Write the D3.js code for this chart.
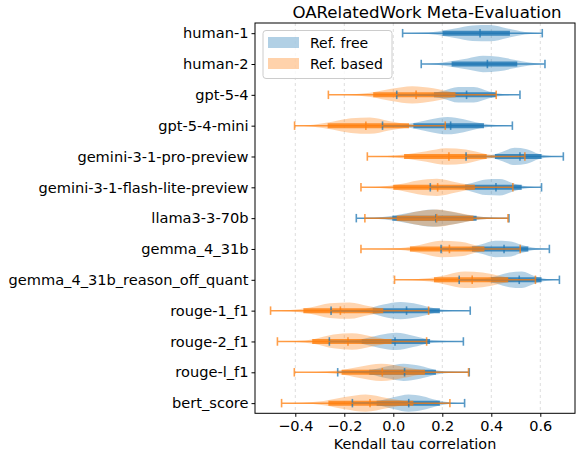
<!DOCTYPE html>
<html>
<head>
<meta charset="utf-8">
<script src="https://cdn.jsdelivr.net/npm/d3@7"></script>
<style>
  body { margin: 0; background: #fff; }
  svg { font-family: "DejaVu Sans", sans-serif; }
</style>
</head>
<body>
<div id="chart"></div>
<script>
// categories, top to bottom
const categories = ["human-1", "human-2", "gpt-5-4", "gpt-5-4-mini", "gemini-3-1-pro-preview",
  "gemini-3-1-flash-lite-preview", "llama3-3-70b", "gemma_4_31b", "gemma_4_31b_reason_off_quant",
  "rouge-1_f1", "rouge-2_f1", "rouge-l_f1", "bert_score"];

// Ref. free stats (min, q1, median, q3, max)
const freeMin = [0.038, 0.114, 0.014, -0.044, 0.297, 0.151, -0.151, 0.195, 0.269, -0.254, -0.261, -0.227, -0.167];
const freeQ1  = [0.201, 0.238, 0.166, 0.082, 0.415, 0.293, -0.004, 0.321, 0.399, -0.084, -0.129, -0.098, -0.068];
const freeMed = [0.354, 0.384, 0.299, 0.234, 0.517, 0.419, 0.174, 0.452, 0.514, 0.054, 0.007, 0.046, 0.063];
const freeQ3  = [0.476, 0.506, 0.419, 0.370, 0.605, 0.524, 0.340, 0.551, 0.605, 0.190, 0.150, 0.174, 0.190];
const freeMax = [0.608, 0.619, 0.517, 0.486, 0.694, 0.605, 0.472, 0.637, 0.678, 0.314, 0.286, 0.310, 0.291];

// Ref. based stats (no values for the human rows)
const basedMin = [null, null, -0.265, -0.403, -0.106, -0.132, -0.116, -0.132, 0.005, -0.501, -0.473, -0.404, -0.456];
const basedQ1  = [null, null, -0.082, -0.268, 0.044, 0.000, 0.014, 0.068, 0.166, -0.367, -0.331, -0.211, -0.265];
const basedMed = [null, null, 0.093, -0.112, 0.227, 0.181, 0.177, 0.229, 0.322, -0.216, -0.185, -0.045, -0.095];
const basedQ3  = [null, null, 0.254, 0.064, 0.381, 0.333, 0.327, 0.372, 0.469, -0.041, -0.007, 0.129, 0.082];
const basedMax = [null, null, 0.420, 0.212, 0.537, 0.488, 0.468, 0.518, 0.580, 0.144, 0.136, 0.307, 0.231];

// violin widths (relative density) at 9 evenly spaced points from min to max
const freeShape = [
  [0, 0.04, 0.2, 0.55, 0.9, 0.95, 0.55, 0.15, 0],
  [0, 0.1, 0.35, 0.65, 0.95, 0.85, 0.5, 0.18, 0],
  [0, 0.03, 0.12, 0.45, 0.9, 0.9, 0.4, 0.08, 0],
  [0, 0.08, 0.35, 0.75, 1.0, 0.75, 0.3, 0.07, 0],
  [0, 0.05, 0.15, 0.55, 1.0, 0.85, 0.3, 0.06, 0],
  [0, 0.04, 0.15, 0.5, 0.9, 0.95, 0.45, 0.1, 0],
  [0, 0.06, 0.3, 0.7, 1.0, 0.75, 0.3, 0.07, 0],
  [0, 0.05, 0.2, 0.55, 0.95, 0.9, 0.45, 0.1, 0],
  [0, 0.04, 0.15, 0.45, 0.85, 0.95, 0.45, 0.1, 0],
  [0, 0.05, 0.2, 0.7, 1.0, 0.75, 0.25, 0.05, 0],
  [0, 0.06, 0.3, 0.75, 1.0, 0.65, 0.2, 0.05, 0],
  [0, 0.06, 0.25, 0.7, 1.0, 0.75, 0.25, 0.05, 0],
  [0, 0.08, 0.3, 0.7, 1.0, 0.8, 0.35, 0.07, 0]
];
const basedShape = [
  null,
  null,
  [0, 0.05, 0.25, 0.7, 1.0, 0.75, 0.25, 0.05, 0],
  [0, 0.12, 0.45, 0.85, 0.95, 0.55, 0.2, 0.04, 0],
  [0, 0.05, 0.25, 0.6, 0.95, 0.8, 0.3, 0.06, 0],
  [0, 0.08, 0.35, 0.8, 1.0, 0.6, 0.2, 0.05, 0],
  [0, 0.08, 0.35, 0.8, 1.0, 0.7, 0.3, 0.06, 0],
  [0, 0.02, 0.12, 0.5, 0.95, 0.85, 0.3, 0.06, 0],
  [0, 0.05, 0.2, 0.6, 0.95, 0.85, 0.45, 0.1, 0],
  [0, 0.07, 0.35, 0.85, 0.95, 0.5, 0.15, 0.03, 0],
  [0, 0.05, 0.3, 0.8, 0.95, 0.6, 0.2, 0.04, 0],
  [0, 0.03, 0.2, 0.65, 1.0, 0.65, 0.2, 0.04, 0],
  [0, 0.05, 0.25, 0.7, 1.0, 0.6, 0.2, 0.04, 0]
];

const xTicks = [-0.4, -0.2, 0.0, 0.2, 0.4, 0.6];
const seriesNames = ["Ref. free", "Ref. based"];
const colors = ["#1f77b4", "#ff7f0e"];

var margin = {top: 23, right: 1, bottom: 38.7, left: 255},
  width = 576 - margin.left - margin.right,
  height = 452 - margin.top - margin.bottom;

var svg = d3.select("#chart").append("svg")
  .attr("width", 576).attr("height", 452);

var g = svg.append("g")
  .attr("transform", "translate(" + margin.left + "," + margin.top + ")");

var x = d3.scaleLinear().domain([-0.5645, 0.7416]).range([0, width]);
var y = d3.scaleLinear().domain([0.67, 13.33]).range([0, height]);
var halfW = y(1.28) - y(1);    // violin half width
var capH = y(1.1375) - y(1);   // cap / median half length

// grid
g.selectAll(".grid").data(xTicks).enter().append("line")
  .attr("x1", d => x(d)).attr("x2", d => x(d))
  .attr("y1", 0).attr("y2", height)
  .style("stroke", "#d4d4d4").style("stroke-width", 0.8)
  .style("stroke-dasharray", "3,3");

// build violin records
function makeViolins(mins, q1s, meds, q3s, maxs, shapes, s) {
  var out = [];
  categories.forEach(function(c, i) {
    if (mins[i] == null) return;
    var pts = shapes[i].map(function(w, k) {
      return {v: mins[i] + k * (maxs[i] - mins[i]) / (shapes[i].length - 1), w: w};
    });
    out.push({pos: i + 1, min: mins[i], q1: q1s[i], med: meds[i], q3: q3s[i], max: maxs[i], pts: pts, s: s});
  });
  return out;
}
var violins = [
  makeViolins(freeMin, freeQ1, freeMed, freeQ3, freeMax, freeShape, 0),
  makeViolins(basedMin, basedQ1, basedMed, basedQ3, basedMax, basedShape, 1)
];

var area = d3.area()
  .curve(d3.curveMonotoneX)
  .x(d => x(d.v));

// bodies first (both series)
violins.forEach(function(vs, s) {
  g.selectAll(".body" + s).data(vs).enter().append("path")
    .attr("d", function(d) {
      var yc = y(d.pos);
      return area.y0(p => yc - p.w * halfW).y1(p => yc + p.w * halfW)(d.pts);
    })
    .style("fill", colors[s]).style("fill-opacity", 0.33).style("stroke", "none");
});

// thick IQR bars
violins.forEach(function(vs, s) {
  g.selectAll(".iqr" + s).data(vs).enter().append("line")
    .attr("x1", d => x(d.q1)).attr("x2", d => x(d.q3))
    .attr("y1", d => y(d.pos)).attr("y2", d => y(d.pos))
    .style("stroke", colors[s]).style("stroke-width", 5).style("stroke-opacity", 0.8);
});

// extrema line, caps, medians
violins.forEach(function(vs, s) {
  var lg = g.append("g").style("opacity", 0.75);
  lg.selectAll(".bar").data(vs).enter().append("line")
    .attr("x1", d => x(d.min)).attr("x2", d => x(d.max))
    .attr("y1", d => y(d.pos)).attr("y2", d => y(d.pos))
    .style("stroke", colors[s]).style("stroke-width", 1.5);
  ["min", "max", "med"].forEach(function(k) {
    lg.selectAll(".cap" + k).data(vs).enter().append("line")
      .attr("x1", d => x(d[k])).attr("x2", d => x(d[k]))
      .attr("y1", d => y(d.pos) - capH).attr("y2", d => y(d.pos) + capH)
      .style("stroke", colors[s]).style("stroke-width", 1.6);
  });
});

// frame
g.append("rect").attr("x", 0).attr("y", 0).attr("width", width).attr("height", height)
  .style("fill", "none").style("stroke", "#000").style("stroke-width", 1);

// axes
var xAxis = g.append("g").attr("transform", "translate(0," + height + ")")
  .call(d3.axisBottom(x).tickValues(xTicks).tickFormat(d3.format(".1f")).tickSizeOuter(0).tickSize(3.5).tickPadding(4));
xAxis.select(".domain").remove();
xAxis.selectAll("text").style("font-size", "14.5px").style("fill", "#000").style("font-family", "DejaVu Sans");

var yAxis = g.append("g")
  .call(d3.axisLeft(y).tickValues(d3.range(1, categories.length + 1))
    .tickFormat(d => categories[d - 1]).tickSizeOuter(0).tickSize(3.5).tickPadding(3));
yAxis.select(".domain").remove();
yAxis.selectAll("text").style("font-size", "14.6px").style("fill", "#000").style("font-family", "DejaVu Sans");

// title and x label
svg.append("text")
  .attr("x", 427).attr("y", 17.5)
  .attr("text-anchor", "middle")
  .style("font-size", "16.6px")
  .text("OARelatedWork Meta-Evaluation");

svg.append("text")
  .attr("x", margin.left + width / 2).attr("y", 448.5)
  .attr("text-anchor", "middle")
  .style("font-size", "14.4px")
  .text("Kendall tau correlation");

// legend
var leg = g.append("g").attr("transform", "translate(8,7.5)");
leg.append("rect").attr("width", 129).attr("height", 48).attr("rx", 3)
  .style("fill", "#fff").style("fill-opacity", 0.8).style("stroke", "#ccc").style("stroke-width", 1);
seriesNames.forEach(function(n, i) {
  leg.append("rect").attr("x", 5).attr("y", 6.5 + i * 21).attr("width", 31).attr("height", 11)
    .style("fill", colors[i]).style("fill-opacity", 0.35);
  leg.append("text").attr("x", 47).attr("y", 17 + i * 21)
    .style("font-size", "14px").text(n);
});
</script>
</body>
</html>
